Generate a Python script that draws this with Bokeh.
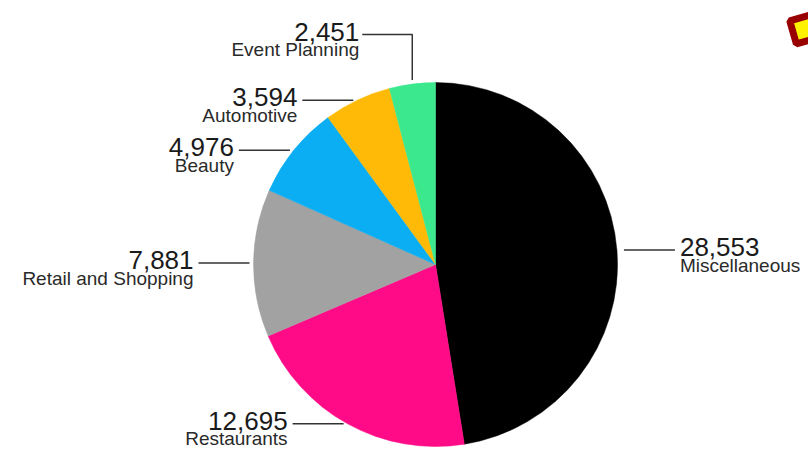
import math
from bokeh.plotting import figure
from bokeh.models import Range1d, ColumnDataSource
from bokeh.core.properties import value
from bokeh.embed import file_html
from bokeh.resources import INLINE

# ---- data ----
categories = ["Miscellaneous", "Restaurants", "Retail and Shopping", "Beauty", "Automotive", "Event Planning"]
counts = [28553, 12695, 7881, 4976, 3594, 2451]
colors = ["#000000", "#FF0A87", "#A2A2A2", "#0BAEF2", "#FFBA08", "#3BE88E"]

# ---- layout (pixel space) ----
W, H = 808, 449
CX, CY, R = 435, 264, 182
GAP, LEN, TGAP = 4, 51, 5
FONT = "Liberation Sans"

p = figure(width=W, height=H, x_range=Range1d(0, W), y_range=Range1d(0, H),
           output_backend="svg", toolbar_location=None, min_border=0)
p.axis.visible = False
p.grid.visible = False
p.outline_line_color = None
p.background_fill_color = "white"
p.border_fill_color = "white"

total = float(sum(counts))
starts, ends, mids = [], [], []
cum = 0.0
for c in counts:
    a0 = cum / total * 2 * math.pi
    cum += c
    a1 = cum / total * 2 * math.pi
    starts.append(a0); ends.append(a1); mids.append((a0 + a1) / 2)

# clockwise from 12 o'clock -> bokeh anticlockwise angles
src = ColumnDataSource(dict(
    x=[CX] * len(counts), y=[H - CY] * len(counts),
    start=[math.pi / 2 - e for e in ends],
    end=[math.pi / 2 - s for s in starts],
    color=colors))
p.wedge(x="x", y="y", radius=R, start_angle="start", end_angle="end",
        fill_color="color", line_color="color", line_width=0.5, source=src)

for cat, c, m in zip(categories, counts, mids):
    ex = CX + R * math.sin(m)
    ey = CY - R * math.cos(m)
    if cat == "Event Planning":
        top = 34
        xs = [ex, ex, ex - LEN + 1]
        ys = [ey - GAP, top, top]
        p.line(xs, [H - v for v in ys], line_color="#333333", line_width=1.5)
        tx, align, ty = ex - LEN + 1 - 3, "right", top
    elif math.sin(m) >= 0:
        x0, x1 = ex + GAP + 3, ex + GAP + 3 + LEN
        p.line([x0, x1], [H - ey, H - ey], line_color="#333333", line_width=1.5)
        tx, align, ty = x1 + TGAP, "left", ey
    else:
        x0, x1 = ex - GAP, ex - GAP - LEN
        p.line([x0, x1], [H - ey, H - ey], line_color="#333333", line_width=1.5)
        tx, align, ty = x1 - TGAP, "right", ey
    p.text(x=[tx], y=[H - (ty - 3)], text=[f"{c:,}"], text_align=align,
           text_baseline="alphabetic", text_font=value(FONT),
           text_font_size="26px", text_color="#1a1a1a")
    p.text(x=[tx], y=[H - (ty + 15)], text=[cat], text_align=align,
           text_baseline="alphabetic", text_font=value(FONT),
           text_font_size="19px", text_color="#2a2a2a")

# decorative corner marker
p.rect(x=[806], y=[H - 28], width=28, height=24, angle=0.28,
       fill_color="#FFF200", line_color="#990000", line_width=7)

open("out.html", "w").write(file_html(p, INLINE))
